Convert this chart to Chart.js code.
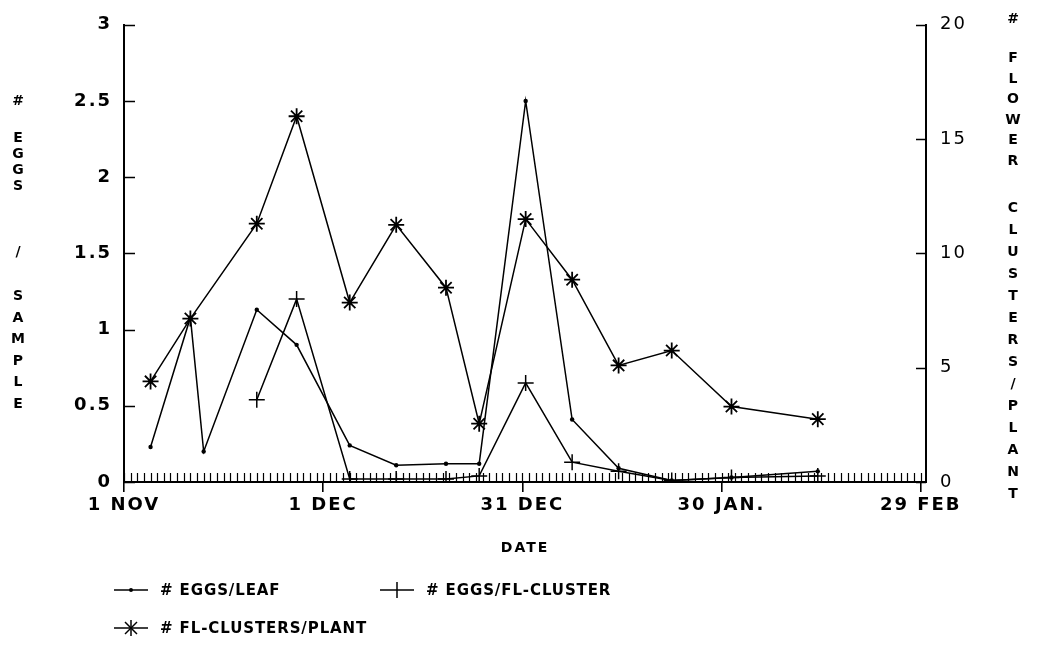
<!DOCTYPE html>
<html>
<head>
<meta charset="utf-8">
<script src="https://cdn.jsdelivr.net/npm/chart.js@4.4.1/dist/chart.umd.min.js"></script>
<style>
  html, body { margin: 0; padding: 0; background: #fff; }
  #wrap { position: relative; width: 1037px; height: 671px; overflow: hidden; background: #fff; }
  #c { position: absolute; left: 0; top: 0; }
  .ch { position: absolute; width: 20px; margin-left: -10px; text-align: center;
        font: bold 14px "DejaVu Sans", sans-serif; line-height: 16px; height: 16px; color: #000; }
  .leg { position: absolute; font: bold 15px "DejaVu Sans", sans-serif; letter-spacing: 0.9px; color: #000; line-height: 18px; }
  svg.sample { position: absolute; overflow: visible; }
</style>
</head>
<body>
<div id="wrap">
  <canvas id="c" width="1037" height="671"></canvas>
</div>
<script>
// ---- data (days since 1 Nov) ----
const xTickDays   = [0, 30, 60, 90, 120];
const xTickLabels = ['1 NOV', '1 DEC', '31 DEC', '30 JAN.', '29 FEB'];

const eggsLeafDays = [4, 10, 12, 20, 26, 34, 41, 48.5, 53.5, 60.5, 67.5, 74.5, 82.5, 91.5, 104.5];
const eggsLeaf     = [0.23, 1.08, 0.20, 1.13, 0.90, 0.24, 0.11, 0.12, 0.12, 2.50, 0.41, 0.09, 0.01, 0.03, 0.07];

const eggsClusterDays = [20, 26, 34, 41, 48.5, 53.5, 60.5, 67.5, 74.5, 82.5, 91.5, 104.5];
const eggsCluster     = [0.54, 1.20, 0.02, 0.02, 0.02, 0.04, 0.65, 0.13, 0.07, 0.01, 0.03, 0.04];

const flDays     = [4, 10, 20, 26, 34, 41, 48.5, 53.5, 60.5, 67.5, 74.5, 82.5, 91.5, 104.5];
const flClusters = [4.4, 7.15, 11.3, 16.0, 7.85, 11.25, 8.5, 2.55, 11.5, 8.85, 5.1, 5.75, 3.3, 2.75];

const seriesNames = ['# EGGS/LEAF', '# EGGS/FL-CLUSTER', '# FL-CLUSTERS/PLANT'];
const leftTitle  = [['#'], ['E','G','G','S'], ['/'], ['S','A','M','P','L','E']];
const rightTitle = [['#'], ['F','L','O','W','E','R'], ['C','L','U','S','T','E','R','S','/','P','L','A','N','T']];

const pts = (xs, ys) => xs.map((x, i) => ({x, y: ys[i]}));

const decor = {
  id: 'decor',
  beforeUpdate(chart) { chart.ctx.letterSpacing = '2px'; },
  beforeDraw(chart) { chart.ctx.letterSpacing = '2px'; },
  afterDraw(chart) {
    const {ctx, chartArea: a, scales: {x, yL, yR}} = chart;
    ctx.save();
    ctx.strokeStyle = '#000';
    ctx.lineWidth = 1.6;
    ctx.beginPath();
    yL.ticks.forEach(t => { const p = Math.round(yL.getPixelForValue(t.value)) + 0.5; ctx.moveTo(a.left, p); ctx.lineTo(a.left + 11, p); });
    yR.ticks.forEach(t => { const p = Math.round(yR.getPixelForValue(t.value)) + 0.5; ctx.moveTo(a.right, p); ctx.lineTo(a.right - 10, p); });
    ctx.stroke();
    ctx.lineWidth = 1.2;
    ctx.beginPath();
    for (let d = 0; d <= xTickDays[xTickDays.length - 1]; d++) {
      const p = Math.round(x.getPixelForValue(d)) + 0.5;
      ctx.moveTo(p, a.bottom); ctx.lineTo(p, a.bottom - 9);
    }
    ctx.stroke();
    ctx.restore();
  }
};

const chart = new Chart(document.getElementById('c'), {
  type: 'line',
  data: {
    datasets: [
      { label: seriesNames[0], data: pts(eggsLeafDays, eggsLeaf), yAxisID: 'yL',
        borderColor: '#000', backgroundColor: '#000', borderWidth: 1.5,
        pointStyle: 'circle', pointRadius: 2.2, pointBorderWidth: 0, tension: 0 },
      { label: seriesNames[1], data: pts(eggsClusterDays, eggsCluster), yAxisID: 'yL',
        borderColor: '#000', backgroundColor: '#000', borderWidth: 1.5,
        pointStyle: 'cross', pointRadius: 8, pointBorderWidth: 1.5, tension: 0 },
      { label: seriesNames[2], data: pts(flDays, flClusters), yAxisID: 'yR',
        borderColor: '#000', backgroundColor: '#000', borderWidth: 1.5,
        pointStyle: 'star', pointRadius: 8, pointBorderWidth: 1.8, tension: 0 }
    ]
  },
  options: {
    responsive: false,
    animation: false,
    devicePixelRatio: 1,
    layout: { padding: { top: 20, left: 0, right: 0, bottom: 0 } },
    plugins: { legend: { display: false }, tooltip: { enabled: false } },
    scales: {
      x: {
        type: 'linear', position: 'bottom', min: 0, max: 120.8,
        afterBuildTicks: s => { s.ticks = xTickDays.map(v => ({value: v})); },
        afterFit: s => { s.height = 189; },
        ticks: {
          autoSkip: false, maxRotation: 0, padding: 3, color: '#000',
          font: { family: '"DejaVu Sans", sans-serif', size: 18, weight: 'bold' },
          callback: v => xTickLabels[xTickDays.indexOf(v)]
        },
        grid: { drawOnChartArea: false, drawTicks: true, tickLength: 10, color: '#000', lineWidth: 1.6 },
        border: { color: '#000', width: 2 },
        title: { display: true, text: 'DATE', color: '#000',
                 font: { family: '"DejaVu Sans", sans-serif', size: 14, weight: 'bold' },
                 padding: { top: 0, bottom: 114 } }
      },
      yL: {
        type: 'linear', position: 'left', min: 0, max: 3,
        afterFit: s => { s.width = 124; },
        ticks: { stepSize: 0.5, padding: 12, color: '#000',
                 callback: v => String(v),
                 font: { family: '"DejaVu Sans", sans-serif', size: 18, weight: 'bold' } },
        grid: { drawOnChartArea: false, drawTicks: false },
        border: { color: '#000', width: 2 }
      },
      yR: {
        type: 'linear', position: 'right', min: 0, max: 20,
        afterFit: s => { s.width = 111; },
        ticks: { stepSize: 5, padding: 14, color: '#000',
                 callback: v => String(v),
                 font: { family: '"DejaVu Sans", sans-serif', size: 18, weight: 'normal' } },
        grid: { drawOnChartArea: false, drawTicks: false },
        border: { color: '#000', width: 2 }
      }
    }
  },
  plugins: [decor]
});

// ---- stacked axis titles (real text) ----
const wrap = document.getElementById('wrap');
function column(x, groups, starts, steps) {
  groups.forEach((g, gi) => {
    g.forEach((ch, i) => {
      const d = document.createElement('div');
      d.className = 'ch';
      d.textContent = ch;
      d.style.left = x + 'px';
      d.style.top = (starts[gi] + i * steps[gi] - 8) + 'px';
      wrap.appendChild(d);
    });
  });
}
column(18, leftTitle, [100, 137, 251, 295], [0, 16, 0, 21.5]);
column(1013, rightTitle, [18, 57, 207], [0, 20.6, 22]);

// ---- legend ----
function legendItem(x, y, sampleType, text) {
  const ns = 'http://www.w3.org/2000/svg';
  const svg = document.createElementNS(ns, 'svg');
  svg.setAttribute('class', 'sample');
  svg.setAttribute('width', 36); svg.setAttribute('height', 20);
  svg.style.left = x + 'px'; svg.style.top = (y - 10) + 'px';
  let inner = '<line x1="0" y1="10" x2="34" y2="10" stroke="#000" stroke-width="1.5"/>';
  if (sampleType === 'dot') inner += '<circle cx="17" cy="10" r="2" fill="#000"/>';
  if (sampleType === 'cross') inner += '<line x1="17" y1="2" x2="17" y2="18" stroke="#000" stroke-width="1.5"/>';
  if (sampleType === 'star') inner += '<g stroke="#000" stroke-width="1.5"><line x1="17" y1="2" x2="17" y2="18"/><line x1="11" y1="4" x2="23" y2="16"/><line x1="23" y1="4" x2="11" y2="16"/></g>';
  svg.innerHTML = inner;
  wrap.appendChild(svg);
  const t = document.createElement('div');
  t.className = 'leg';
  t.textContent = text;
  t.style.left = (x + 46) + 'px';
  t.style.top = (y - 9) + 'px';
  wrap.appendChild(t);
}
legendItem(114, 590, 'dot', seriesNames[0]);
legendItem(380, 590, 'cross', seriesNames[1]);
legendItem(114, 628, 'star', seriesNames[2]);
</script>
</body>
</html>
